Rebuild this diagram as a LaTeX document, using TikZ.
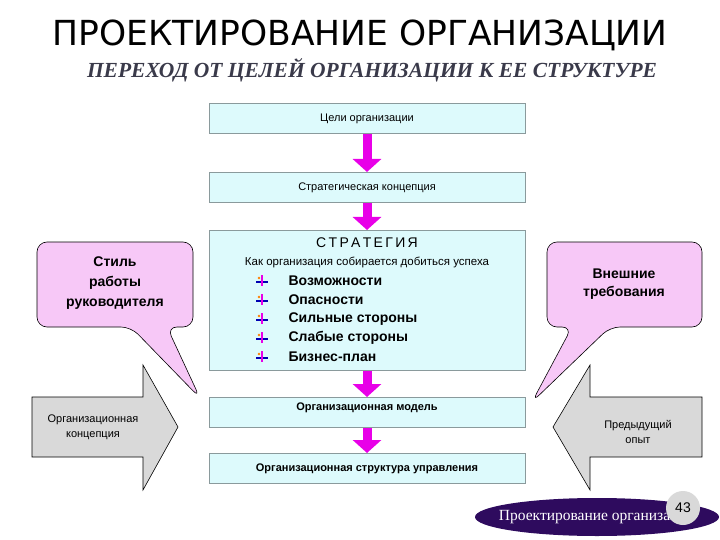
\documentclass[tikz,border=0pt]{standalone}
\usepackage{fontspec}
\setmainfont{Liberation Sans}
\newfontfamily\serifx{Liberation Serif}
\newfontfamily\titlef{DejaVu Sans}
\usetikzlibrary{arrows.meta,shapes.geometric}
\definecolor{boxfill}{HTML}{DDFAFC}
\definecolor{boxline}{HTML}{8A9A9C}
\definecolor{mag}{HTML}{E800E8}
\definecolor{pinkc}{HTML}{F7C8F7}
\definecolor{grayarr}{HTML}{D9D9D9}
\definecolor{ellc}{HTML}{2E0B5E}
\tikzset{
  mainbox/.style={draw=boxline, fill=boxfill, line width=0.8pt, minimum width=316pt, anchor=north},
  flowarrow/.style={draw=mag, line width=9pt, -{Triangle[width=28pt,length=13pt]}},
  callout/.style={draw=black, fill=pinkc, line width=0.6pt, rounded corners=10pt},
  bigarr/.style={draw=black, fill=grayarr, line width=0.6pt},
  bullet/.style={font=\fontsize{14}{17}\selectfont\bfseries, anchor=west}
}
\begin{document}
\begin{tikzpicture}[x=1pt,y=-1pt]
\useasboundingbox (0,0) rectangle (720,540);
% title
\node (title) at (360,35) {\titlef\fontsize{34.5}{38}\selectfont ПРОЕКТИРОВАНИЕ ОРГАНИЗАЦИИ};
\node (sub) at (372,70) {\serifx\fontsize{21.5}{24}\selectfont\bfseries\itshape\color[HTML]{3A3A4A} ПЕРЕХОД ОТ ЦЕЛЕЙ ОРГАНИЗАЦИИ К ЕЕ СТРУКТУРЕ};
% boxes
\node[mainbox, minimum height=30pt, font=\fontsize{11}{13}\selectfont] (b1) at (367,103) {Цели организации};
\node[mainbox, minimum height=30pt, font=\fontsize{11}{13}\selectfont] (b2) at (367,172) {Стратегическая концепция};
\node[mainbox, minimum height=140pt] (b3) at (367,230) {};
\node[mainbox, minimum height=30pt, font=\fontsize{11}{13}\selectfont\bfseries, text depth=12pt] (b4) at (367,397) {Организационная модель};
\node[mainbox, minimum height=30pt, font=\fontsize{11}{13}\selectfont\bfseries] (b5) at (367,453) {Организационная структура управления};
% strategy content
\node (st) at (367,243) {\fontsize{14}{17}\selectfont С\,Т\,Р\,А\,Т\,Е\,Г\,И\,Я};
\node (st2) at (367,262) {\fontsize{11.5}{14}\selectfont Как организация собирается добиться успеха};
\foreach \t/\y/\n in {Возможности/281/1, Опасности/300/2, Сильные стороны/319/3, Слабые стороны/338/4, Бизнес-план/357/5}{
  \node[bullet] (bl\n) at (285,\y) {\t};
  \node[inner sep=0pt] (ic\n) at (262,\y) {};
  \draw[blue!70!black, line width=1.2pt] (ic\n) ++(-6,1) -- ++(12,0);
  \draw[mag, line width=1.5pt] (ic\n) ++(0,-6) -- ++(0,11);
  \fill[orange] (ic\n) ++(-3,-3) circle (1.3pt);
}
% flow arrows
\draw[flowarrow] (b1.south) -- (b2.north);
\draw[flowarrow] (b2.south) -- (b3.north);
\draw[flowarrow] (b3.south) -- (b4.north);
\draw[flowarrow] (b4.south) -- (b5.north);
% left callout
\coordinate (lt) at (200,398);
\draw[callout] (37,242) -- (193,242) -- (193,327) -- (167,327) -- (lt) -- (131,327) -- (37,327) -- cycle;
\node[align=center, font=\fontsize{14}{20}\selectfont\bfseries] (lc) at (115,283) {Стиль\\работы\\руководителя};
% right callout
\coordinate (rt) at (532,402);
\draw[callout] (547,242) -- (702,242) -- (702,327) -- (610,327) -- (rt) -- (572,327) -- (547,327) -- cycle;
\node[align=center, font=\fontsize{14}{18}\selectfont\bfseries] (rc) at (624,284) {Внешние\\требования};
% big arrows
\draw[bigarr] (32,397) -- (143,397) -- (143,365) -- (178,427) -- (143,490) -- (143,457) -- (32,457) -- cycle;
\node[align=center, font=\fontsize{11}{15}\selectfont] (la) at (93,427) {Организационная\\концепция};
\draw[bigarr] (702,397) -- (590,397) -- (590,365) -- (553,427) -- (590,490) -- (590,457) -- (702,457) -- cycle;
\node[align=center, font=\fontsize{11}{15}\selectfont] (ra) at (638,432) {Предыдущий\\опыт};
% footer
\node[ellipse, fill=ellc, minimum width=244pt, minimum height=38pt, inner sep=0pt] (ell) at (597,517) {};
\node[text=white] (ellt) at (597,517) {\serifx\fontsize{15.5}{17}\selectfont Проектирование организации};
\node[circle, fill=gray!30, minimum size=34pt, inner sep=0pt] (pg) at (683,508) {\fontsize{14}{16}\selectfont 43};
\end{tikzpicture}
\end{document}
